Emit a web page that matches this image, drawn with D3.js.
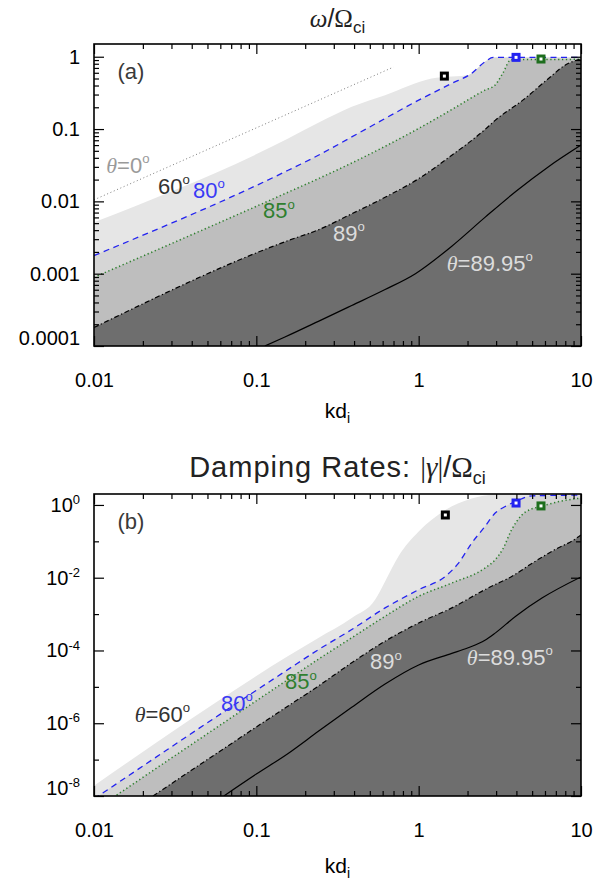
<!DOCTYPE html>
<html>
<head>
<meta charset="utf-8">
<script src="https://cdn.jsdelivr.net/npm/d3@7"></script>
<style>
  body { margin: 0; background: #fff; }
</style>
</head>
<body>
<svg id="chart" width="616" height="882"></svg>
<script>
// ---- data: [kd_i, value] ----

const X_TICKS = [0.01, 0.1, 1, 10];
const X_TICK_LABELS = ['0.01', '0.1', '1', '10'];

const OMEGA_TICKS = [1, 0.1, 0.01, 0.001, 0.0001];
const OMEGA_TICK_LABELS = ['1', '0.1', '0.01', '0.001', '0.0001'];

const GAMMA_TICKS = [1, 1e-2, 1e-4, 1e-6, 1e-8];
const GAMMA_TICK_EXPONENTS = ['0', '-2', '-4', '-6', '-8'];
const GAMMA_MINOR = [1e-1, 1e-3, 1e-5, 1e-7];

// (a) real frequency omega / Omega_ci
const omega0 = [[0.01, 0.0105], [0.7, 0.72]];
const omega60 = [[0.01, 0.00515], [0.157, 0.0738], [0.241, 0.122], [0.387, 0.203],
  [0.621, 0.294], [1.2, 0.50], [2.12, 0.57], [2.56, 0.851], [2.88, 0.977], [10, 0.977]];
const omega80 = [[0.01, 0.00178], [0.157, 0.0269], [0.241, 0.0434], [0.387, 0.0778],
  [0.621, 0.140], [1.0, 0.251], [1.6, 0.428], [2.12, 0.589], [2.56, 0.851], [2.88, 0.977], [10, 0.977]];
const omega85 = [[0.01, 0.00089], [0.157, 0.0134], [0.241, 0.0206], [0.387, 0.0339],
  [0.621, 0.0577], [1.0, 0.102], [1.6, 0.186], [2.56, 0.345], [2.96, 0.407], [3.31, 0.60],
  [3.7, 0.91], [10, 0.92]];
const omega89 = [[0.01, 0.00018], [0.157, 0.00287], [0.241, 0.00404], [0.387, 0.00673],
  [0.621, 0.0114], [1.0, 0.0206], [1.6, 0.0434], [2.56, 0.0984], [2.96, 0.132], [4.38, 0.251],
  [6.31, 0.50], [8.1, 0.78], [10, 0.93]];
const omega8995 = [[0.113, 0.0001], [0.150, 0.000133], [0.241, 0.000219], [0.387, 0.000363],
  [0.621, 0.000603], [0.955, 0.0010], [1.6, 0.0024], [2.56, 0.0060], [3.98, 0.0138],
  [6.31, 0.0302], [10, 0.060]];
const omegaMarkers = [[1.44, 0.54], [3.98, 0.98], [5.67, 0.93]];

// (b) damping rate |gamma| / Omega_ci
const gamma60 = [[0.01, 1.92e-8], [0.157, 7.0e-5], [0.241, 2.22e-4], [0.387, 7.85e-4],
  [0.54, 2.5e-3], [0.621, 7.9e-3], [0.75, 0.0384], [1.0, 0.186], [1.46, 0.73],
  [2.12, 1.51], [2.96, 2.0], [10, 3.2]];
const gamma80 = [[0.01, 8.3e-9], [0.157, 3.02e-5], [0.241, 1.05e-4], [0.387, 3.76e-4],
  [0.621, 1.48e-3], [1.0, 4.69e-3], [1.46, 0.0109], [1.76, 0.0252], [2.12, 0.0891],
  [2.56, 0.255], [2.96, 0.60], [3.39, 0.89], [3.98, 1.26], [5.0, 1.78], [10, 1.86]];
const gamma85 = [[0.01, 4e-9], [0.157, 1.6e-5], [0.241, 5.75e-5], [0.387, 2.24e-4],
  [0.621, 8.7e-4], [1.0, 3.08e-3], [1.6, 7.14e-3], [2.56, 0.0184], [2.96, 0.0311],
  [3.31, 0.063], [3.72, 0.2], [4.27, 0.5], [5.0, 0.79], [5.67, 0.91], [7.08, 1.2], [10, 1.55]];
const gamma89 = [[0.0231, 1.0e-8], [0.157, 2.99e-6], [0.241, 1.05e-5], [0.387, 4.6e-5],
  [0.621, 1.8e-4], [1.0, 5.7e-4], [1.6, 1.48e-3], [2.56, 4.7e-3], [2.96, 6.5e-3],
  [3.7, 0.0105], [5.0, 0.025], [7.08, 0.063], [8.9, 0.105], [10, 0.15]];
const gamma8995 = [[0.0631, 1e-8], [0.1, 4.0e-8], [0.157, 1.48e-7], [0.241, 6.0e-7],
  [0.387, 2.75e-6], [0.621, 1.2e-5], [1.0, 4.0e-5], [1.6, 8.3e-5], [2.0, 1.17e-4],
  [2.56, 1.9e-4], [2.96, 3.0e-4], [3.98, 8.9e-4], [5.78, 2.8e-3], [10, 0.0105]];
const gammaMarkers = [[1.46, 0.53], [3.98, 1.13], [5.67, 0.94]];

// ---- styles ----
const SANS = '"Liberation Sans", Arial, Helvetica, sans-serif';
const SERIF = '"Liberation Serif", "Times New Roman", serif';

const FILL_LIGHT = '#e6e6e6';
const FILL_BAND = '#d6d6d6';
const FILL_MEDIUM = '#bebebe';
const FILL_DARK = '#6e6e6e';

const BLUE = '#2323f0';
const GREEN = '#2c7f2c';
const MARKER_COLORS = ['#000000', BLUE, '#1e6e1e'];

function translate(x, y) {
  return 'translate(' + x + ',' + y + ')';
}

const svg = d3.select('#chart');

const plotLeft = 94;
const width = 581 - 94;
const height = 302;

const xScale = d3.scaleLog().domain([0.01, 10]).range([0, width]);

function minorTicks(lo, hi) {
  const out = [];
  for (let e = Math.floor(Math.log10(lo)); e < Math.ceil(Math.log10(hi)); e++) {
    for (let m = 2; m <= 9; m++) {
      const v = m * Math.pow(10, e);
      if (v > lo && v < hi) out.push(v);
    }
  }
  return out;
}

// text with serif italic theta and a superscript "o" for degrees
function addNote(sel, { text, theta, color }) {
  if (theta) {
    sel.append('tspan')
        .attr('font-family', SERIF)
        .attr('font-style', 'italic')
        .text('\u03b8');
    sel.append('tspan').text('=');
  }
  sel.append('tspan').text(text);
  sel.append('tspan')
      .attr('font-size', '0.6em')
      .attr('dy', '-0.75em')
      .text('o');
  sel.attr('fill', color);
}

function drawPanel(p) {

  const g = svg.append('g')
      .attr('transform', translate(plotLeft, p.top));

  const yScale = d3.scaleLog()
    .domain([p.yMin, p.yMax])
    .range([height, 0]);

  g.append('clipPath')
      .attr('id', 'clip-' + p.name)
    .append('rect')
      .attr('width', width)
      .attr('height', height);

  const plot = g.append('g')
      .attr('clip-path', 'url(#clip-' + p.name + ')');

  const area = d3.area()
    .curve(d3.curveMonotoneX)
    .x(d => xScale(d[0]))
    .y0(height)
    .y1(d => yScale(d[1]));

  const line = d3.line()
    .curve(d3.curveMonotoneX)
    .x(d => xScale(d[0]))
    .y(d => yScale(d[1]));

  p.fills.forEach(f => {
    plot.append('path')
        .datum(f.data)
        .attr('d', area)
        .attr('fill', f.color);
  });

  p.lines.forEach(l => {
    plot.append('path')
        .datum(l.data)
        .attr('d', line)
        .attr('fill', 'none')
        .attr('stroke', l.color)
        .attr('stroke-width', l.width)
        .attr('stroke-dasharray', l.dash);
  });

  // open square markers
  plot.selectAll('.marker')
      .data(p.markers)
    .enter()
    .append('rect')
      .attr('class', 'marker')
      .attr('x', d => xScale(d[0]) - 3)
      .attr('y', d => yScale(d[1]) - 3)
      .attr('width', 6)
      .attr('height', 6)
      .attr('fill', '#fff')
      .attr('stroke', (d, i) => MARKER_COLORS[i])
      .attr('stroke-width', 3);

  // curve labels, anchored in data coordinates
  p.notes.forEach(n => {
    const t = g.append('text')
        .attr('x', xScale(n.at[0]))
        .attr('y', yScale(n.at[1]))
        .attr('font-family', SANS)
        .attr('font-size', 22);
    addNote(t, n);
  });

  g.append('text')
      .attr('x', 37)
      .attr('y', 35)
      .attr('text-anchor', 'middle')
      .attr('font-family', SANS)
      .attr('font-size', 22)
      .attr('fill', '#3a3a3a')
      .text(p.panelLabel);

  // axes, ticks pointing inward on all four sides
  const styleAxis = sel => {
    sel.attr('font-family', SANS).attr('font-size', 20);
    sel.select('.domain').remove();
    sel.selectAll('line').attr('stroke-width', 1.2);
    sel.selectAll('text').attr('fill', '#000');
  };

  g.append('g')
      .attr('transform', translate(0, height))
      .call(d3.axisBottom(xScale).tickValues(X_TICKS).tickSize(-10).tickPadding(27)
        .tickFormat((d, i) => X_TICK_LABELS[i]))
      .call(styleAxis);
  g.append('g')
      .attr('transform', translate(0, height))
      .call(d3.axisBottom(xScale).tickValues(minorTicks(0.01, 10)).tickSize(-5).tickFormat(''))
      .call(styleAxis);
  g.append('g')
      .call(d3.axisTop(xScale).tickValues(X_TICKS).tickSize(-10).tickFormat(''))
      .call(styleAxis);
  g.append('g')
      .call(d3.axisTop(xScale).tickValues(minorTicks(0.01, 10)).tickSize(-5).tickFormat(''))
      .call(styleAxis);

  const left = g.append('g')
      .call(d3.axisLeft(yScale).tickValues(p.yTicks).tickSize(-10).tickPadding(14)
        .tickFormat(p.yFormat))
      .call(styleAxis);
  g.append('g')
      .call(d3.axisLeft(yScale).tickValues(p.yMinor).tickSize(-5).tickFormat(''))
      .call(styleAxis);
  g.append('g')
      .attr('transform', translate(width, 0))
      .call(d3.axisRight(yScale).tickValues(p.yTicks).tickSize(-10).tickFormat(''))
      .call(styleAxis);
  g.append('g')
      .attr('transform', translate(width, 0))
      .call(d3.axisRight(yScale).tickValues(p.yMinor).tickSize(-5).tickFormat(''))
      .call(styleAxis);

  if (p.yExponents) {
    left.selectAll('.tick text').each(function(d, i) {
      const t = d3.select(this);
      t.append('tspan').text('10');
      t.append('tspan')
          .attr('dy', '-0.6em')
          .attr('font-size', '0.65em')
          .text(p.yExponents[i]);
    });
  }

  // the lowest label sits a little above its tick, as in the original
  left.selectAll('.tick text')
      .filter(d => d === p.yMin)
      .attr('y', -8);

  g.append('rect')
      .attr('width', width)
      .attr('height', height)
      .attr('fill', 'none')
      .attr('stroke', '#000')
      .attr('stroke-width', 1.6);

  // x axis title
  const xl = svg.append('text')
      .attr('x', plotLeft + width / 2)
      .attr('y', p.top + p.xLabelOffset)
      .attr('text-anchor', 'middle')
      .attr('font-family', SANS)
      .attr('font-size', 21);
  xl.append('tspan').text('kd');
  xl.append('tspan').attr('font-size', 14).attr('dy', 5).text('i');
}

const lineStyles = {
  theta0: { color: '#7c7c7c', width: 1, dash: '1,2.6' },
  theta80: { color: BLUE, width: 1.3, dash: '6,4.5' },
  theta85: { color: GREEN, width: 1.5, dash: '1.3,2.6' },
  theta89: { color: '#000', width: 1.2, dash: '5,2.5,1.3,2.5' },
  theta8995: { color: '#000', width: 1.2, dash: null },
};

drawPanel({
  name: 'a',
  top: 44,
  yMin: 1e-4,
  yMax: 1.5,
  panelLabel: '(a)',
  yTicks: OMEGA_TICKS,
  yMinor: minorTicks(1e-4, 1.5),
  yFormat: (d, i) => OMEGA_TICK_LABELS[i],
  xLabelOffset: 374,
  fills: [
    { data: omega60, color: FILL_LIGHT },
    { data: omega80, color: FILL_BAND },
    { data: omega85, color: FILL_MEDIUM },
    { data: omega89, color: FILL_DARK },
  ],
  lines: [
    Object.assign({ data: omega0 }, lineStyles.theta0),
    Object.assign({ data: omega80 }, lineStyles.theta80),
    Object.assign({ data: omega85 }, lineStyles.theta85),
    Object.assign({ data: omega89 }, lineStyles.theta89),
    Object.assign({ data: omega8995 }, lineStyles.theta8995),
  ],
  markers: omegaMarkers,
  notes: [
    { text: '0', theta: true, color: '#9a9a9a', at: [0.0119, 0.0244] },
    { text: '60', color: '#333', at: [0.0248, 0.0127] },
    { text: '80', color: '#3a3af5', at: [0.0407, 0.011] },
    { text: '85', color: '#2f7f2f', at: [0.110, 0.0058] },
    { text: '89', color: '#dcdcdc', at: [0.297, 0.00287] },
    { text: '89.95', theta: true, color: '#dcdcdc', at: [1.49, 0.0011] },
  ],
});

drawPanel({
  name: 'b',
  top: 494,
  yMin: 1e-8,
  yMax: 2,
  panelLabel: '(b)',
  yTicks: GAMMA_TICKS,
  yMinor: GAMMA_MINOR,
  yFormat: () => '',
  yExponents: GAMMA_TICK_EXPONENTS,
  xLabelOffset: 379,
  fills: [
    { data: gamma60, color: FILL_LIGHT },
    { data: gamma80, color: FILL_BAND },
    { data: gamma85, color: FILL_MEDIUM },
    { data: gamma89, color: FILL_DARK },
  ],
  lines: [
    Object.assign({ data: gamma80 }, lineStyles.theta80),
    Object.assign({ data: gamma85 }, lineStyles.theta85),
    Object.assign({ data: gamma89 }, lineStyles.theta89),
    Object.assign({ data: gamma8995 }, lineStyles.theta8995),
  ],
  markers: gammaMarkers,
  notes: [
    { text: '60', theta: true, color: '#333', at: [0.0178, 1.06e-6] },
    { text: '80', color: '#3a3af5', at: [0.0606, 2.17e-6] },
    { text: '85', color: '#2f7f2f', at: [0.150, 8.5e-6] },
    { text: '89', color: '#dcdcdc', at: [0.502, 3.0e-5] },
    { text: '89.95', theta: true, color: '#dcdcdc', at: [1.98, 4.1e-5] },
  ],
});

// panel titles
const titleA = svg.append('text')
    .attr('x', plotLeft + width / 2)
    .attr('y', 27)
    .attr('text-anchor', 'middle')
    .attr('font-size', 25)
    .attr('fill', '#222');
titleA.append('tspan').attr('font-family', SERIF).attr('font-style', 'italic').text('\u03c9');
titleA.append('tspan').attr('font-family', SANS).text('/');
titleA.append('tspan').attr('font-family', SERIF).text('\u03a9');
titleA.append('tspan').attr('font-family', SANS).attr('font-size', 17).attr('dy', 6).text('ci');

const titleB = svg.append('text')
    .attr('x', plotLeft + width / 2)
    .attr('y', 477)
    .attr('text-anchor', 'middle')
    .attr('font-size', 29)
    .attr('fill', '#222');
titleB.append('tspan').attr('font-family', SANS).attr('letter-spacing', 1).text('Damping Rates: ');
titleB.append('tspan').attr('font-family', SERIF).text('|');
titleB.append('tspan').attr('font-family', SERIF).attr('font-style', 'italic').text('\u03b3');
titleB.append('tspan').attr('font-family', SERIF).text('|');
titleB.append('tspan').attr('font-family', SANS).text('/');
titleB.append('tspan').attr('font-family', SERIF).text('\u03a9');
titleB.append('tspan').attr('font-family', SANS).attr('font-size', 18).attr('dy', 7).text('ci');
</script>
</body>
</html>
